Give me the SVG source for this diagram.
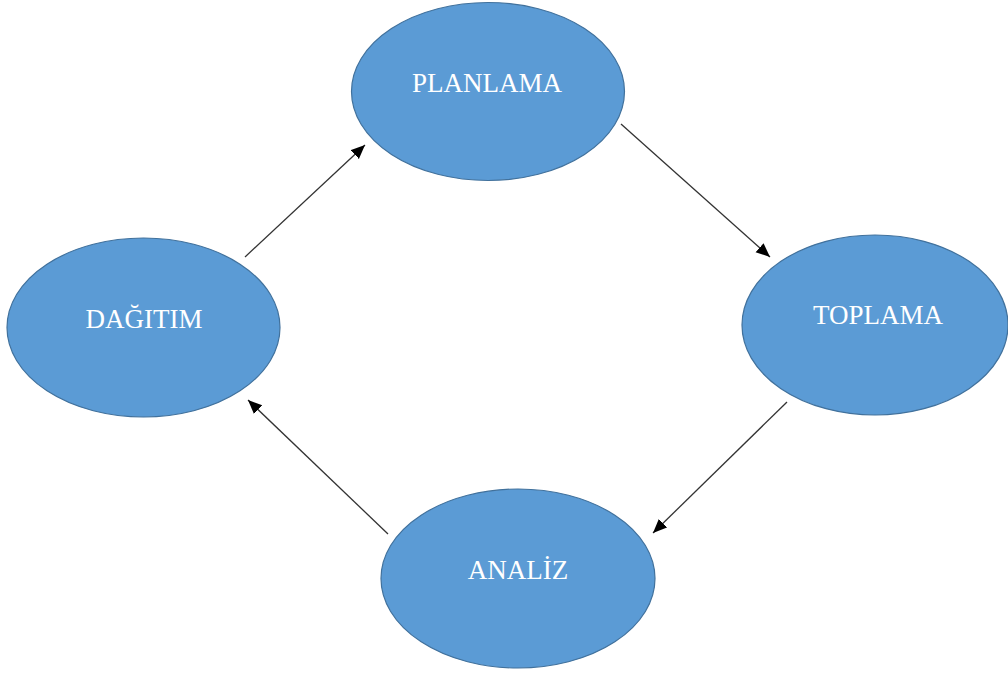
<svg xmlns="http://www.w3.org/2000/svg" width="1008" height="675" viewBox="0 0 1008 675">
  <style>
    .node ellipse { fill: #5B9BD5; stroke: #41719C; stroke-width: 1.2; }
    .node text { fill: #ffffff; font-family: "Liberation Serif", "Times New Roman", serif; font-size: 27px; text-anchor: middle; }
    .edge { stroke: #333333; stroke-width: 1.3; fill: none; marker-end: url(#arrow); }
  </style>
  <defs>
    <marker id="arrow" markerUnits="userSpaceOnUse" markerWidth="16" markerHeight="14" refX="14" refY="6" orient="auto">
      <path d="M0,0 L14,6 L0,12 Z" fill="#000000"/>
    </marker>
  </defs>
  <rect width="1008" height="675" fill="#ffffff"/>

  <g id="connectors">
    <line class="edge" x1="245" y1="257" x2="365" y2="145"/>
    <line class="edge" x1="621" y1="124" x2="770" y2="257"/>
    <line class="edge" x1="787" y1="402" x2="653" y2="533"/>
    <line class="edge" x1="388" y1="534" x2="248" y2="400"/>
  </g>

  <g id="planlama" class="node">
    <ellipse cx="488" cy="91.5" rx="136.5" ry="89"/>
    <text x="487" y="92">PLANLAMA</text>
  </g>
  <g id="toplama" class="node">
    <ellipse cx="875" cy="325" rx="133" ry="90"/>
    <text x="878" y="324">TOPLAMA</text>
  </g>
  <g id="analiz" class="node">
    <ellipse cx="518" cy="578.5" rx="137" ry="89.5"/>
    <text x="518" y="579">ANALİZ</text>
  </g>
  <g id="dagitim" class="node">
    <ellipse cx="143.5" cy="327.5" rx="136.5" ry="89.5"/>
    <text x="144" y="328">DAĞITIM</text>
  </g>
</svg>
